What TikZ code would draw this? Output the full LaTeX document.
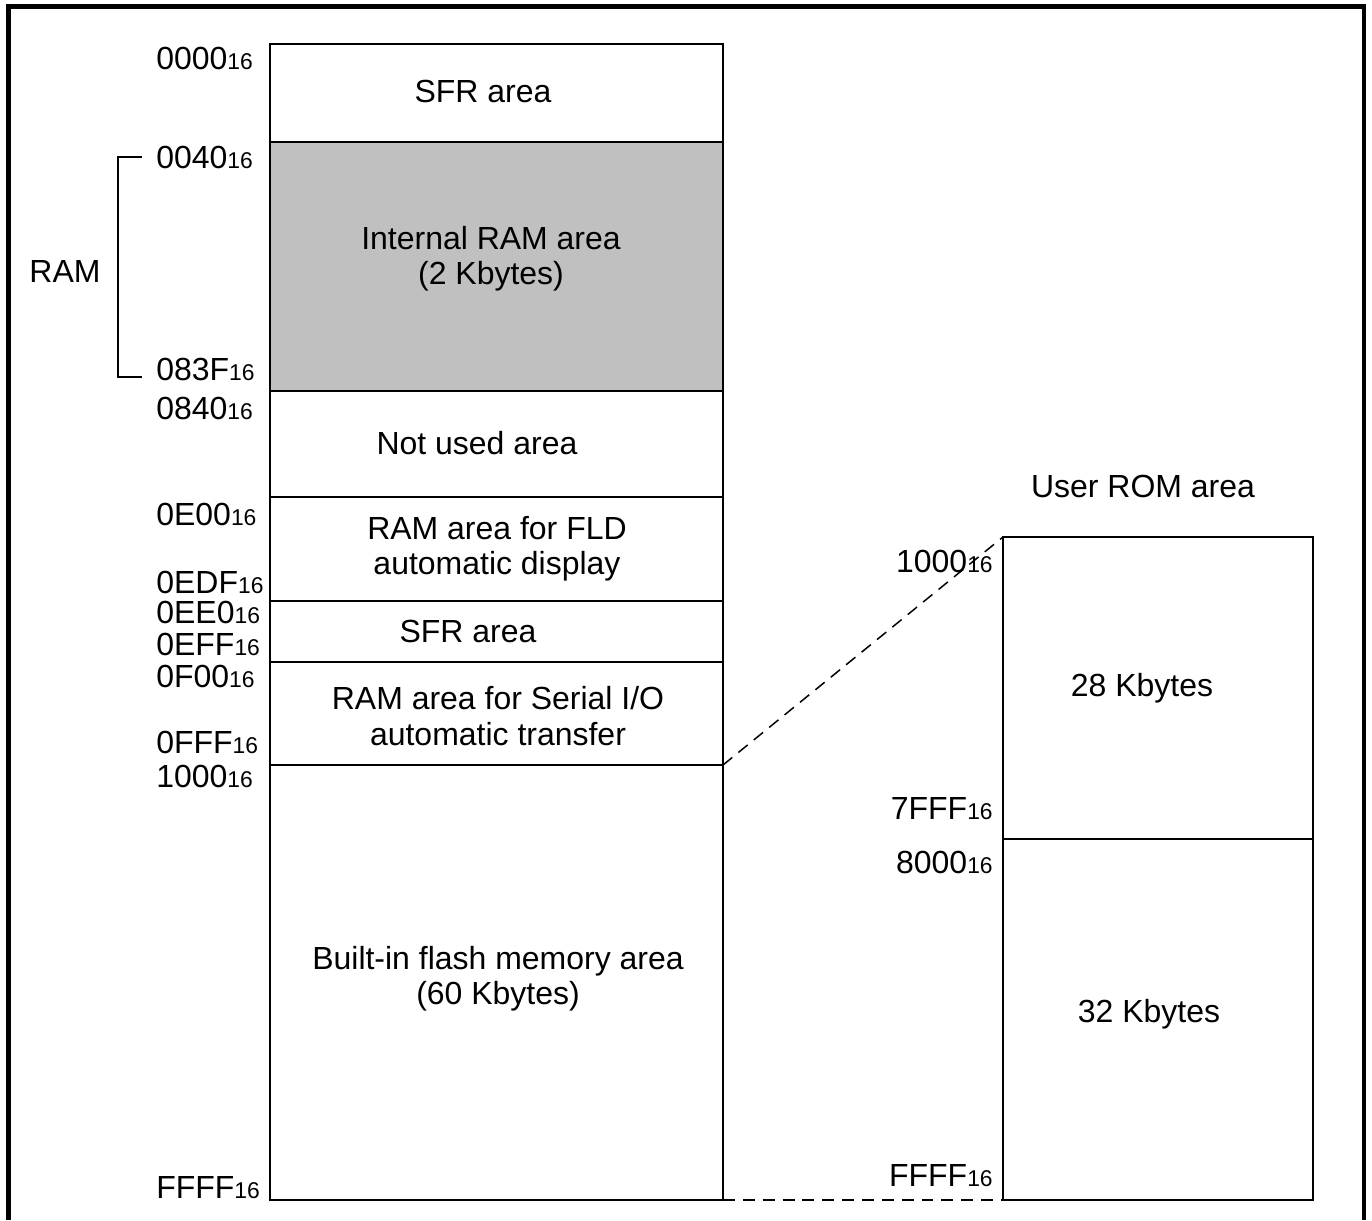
\documentclass[tikz,border=0pt]{standalone}
\usepackage{fontspec}
\setmainfont{Liberation Sans}
\usetikzlibrary{positioning}

\newcommand\hexaddr[1]{#1{\fontsize{13}{14}\selectfont 16}}

\begin{document}
\begin{tikzpicture}[x=0.02cm,y=-0.02cm,
    every node/.style={font=\fontsize{18.2}{20}\selectfont,inner sep=0pt},
    addrl/.style={anchor=base west},
    addrr/.style={anchor=base east},
    arealbl/.style={align=center},
    region/.style={draw,line width=0.85pt},
    zoomlink/.style={draw,line width=0.85pt,dash pattern=on 6.8pt off 4.5pt}]
  \useasboundingbox (0,0) rectangle (1372,1220);
  \draw[line width=2.8pt] (8.5,1220) -- (8.5,6.5) -- (1364,6.5) -- (1364,1220);

  \coordinate (mapnw) at (270,44);
  \coordinate (mapse) at (723,1200);
  \coordinate (flashne) at (723,765);
  \coordinate (romnw) at (1003,537);
  \coordinate (romsw) at (1003,1200);
  \coordinate (romse) at (1313,1200);

  \fill[fill={rgb,255:red,192;green,192;blue,192}] (270,142) rectangle (723,391);
  \draw[region] (mapnw) rectangle (mapse);
  \foreach \y in {142,391,497,601,662,765}
    \draw[region] (270,\y) -- (723,\y);
  \draw[region] (romnw) rectangle (romse);
  \draw[region] (1003,839) -- (1313,839);

  \draw[region,line width=0.7pt] (142,157) -- (118,157) -- (118,377) -- (142,377);

  \draw[zoomlink] (flashne) -- (romnw);
  \draw[zoomlink] (mapse) -- (romsw);

  \node (sfra) at (483,91) {SFR area};
  \node[arealbl] (iram) at (491,259) {Internal RAM area\\(2 Kbytes)};
  \node (unused) at (477,443) {Not used area};
  \node[arealbl] (fldram) at (497,549) {RAM area for FLD\\automatic display};
  \node (sfrb) at (468,631) {SFR area};
  \node[arealbl] (sioram) at (498,716) {RAM area for Serial I/O\\automatic transfer};
  \node[arealbl] (flash) at (498,979) {Built-in flash memory area\\(60 Kbytes)};
  \node (ram) at (65,271) {RAM};
  \node (userrom) at (1143,486) {User ROM area};
  \node (kb28) at (1142,688) {28 Kbytes};
  \node (kb32) at (1149,1014) {32 Kbytes};

  \node[addrl] (a0000) at (156,70) {\hexaddr{0000}};
  \node[addrl] (a0040) at (156,168) {\hexaddr{0040}};
  \node[addrl] (a083f) at (156,380) {\hexaddr{083F}};
  \node[addrl] (a0840) at (156,419) {\hexaddr{0840}};
  \node[addrl] (a0e00) at (156,525) {\hexaddr{0E00}};
  \node[addrl] (a0edf) at (156,593) {\hexaddr{0EDF}};
  \node[addrl] (a0ee0) at (156,623) {\hexaddr{0EE0}};
  \node[addrl] (a0eff) at (156,655) {\hexaddr{0EFF}};
  \node[addrl] (a0f00) at (156,687) {\hexaddr{0F00}};
  \node[addrl] (a0fff) at (156,753) {\hexaddr{0FFF}};
  \node[addrl] (a1000) at (156,787) {\hexaddr{1000}};
  \node[addrl] (affff) at (156,1198) {\hexaddr{FFFF}};

  \node[addrr] (r1000) at (993,572) {\hexaddr{1000}};
  \node[addrr] (r7fff) at (993,819) {\hexaddr{7FFF}};
  \node[addrr] (r8000) at (993,873) {\hexaddr{8000}};
  \node[addrr] (rffff) at (993,1186) {\hexaddr{FFFF}};
\end{tikzpicture}
\end{document}
